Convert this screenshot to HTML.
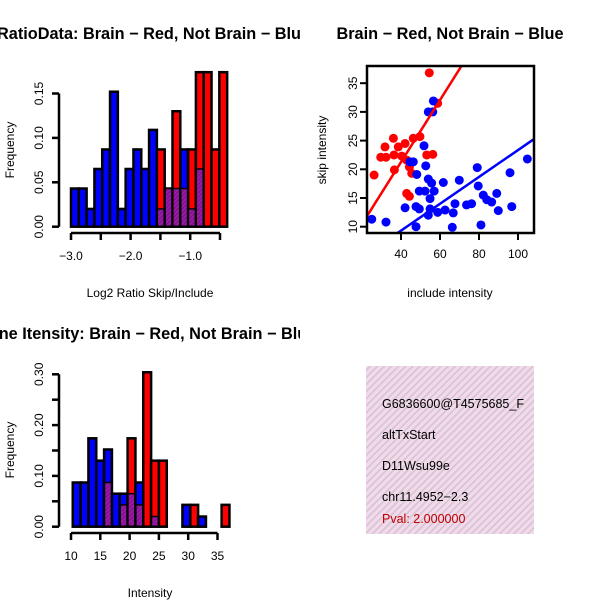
<!DOCTYPE html>
<html><head><meta charset="utf-8"><style>
html,body{margin:0;padding:0;background:#fff;width:600px;height:600px;overflow:hidden}
svg{display:block;font-family:"Liberation Sans",sans-serif}
</style></head><body>
<svg id="chart" width="600" height="600" viewBox="0 0 600 600">
<defs>
<pattern id="hatch" width="5" height="5" patternUnits="userSpaceOnUse" patternTransform="rotate(45)">
<rect width="5" height="5" fill="#f5d8f0"/><rect width="1.6" height="5" fill="#cfc8c8"/>
</pattern>
<pattern id="purp" width="3" height="3" patternUnits="userSpaceOnUse" patternTransform="rotate(45)">
<rect width="3" height="3" fill="#9a1aa8"/><rect width="1" height="3" fill="#7a0f8a"/>
</pattern>
<clipPath id="scClip"><rect x="367" y="66" width="167" height="167"/></clipPath>
<clipPath id="boxClip"><rect x="366" y="366" width="168" height="168"/></clipPath>
<clipPath id="leftClip"><rect x="0" y="0" width="300" height="600"/></clipPath>
</defs>
<g id="g1" clip-path="url(#leftClip)"></g>
<g id="g2"></g>
<g id="g3" clip-path="url(#leftClip)"></g>
<g clip-path="url(#boxClip)">
<rect x="366" y="366" width="168" height="168" fill="url(#hatch)"/>
<text x="382" y="408" font-size="12.5">G6836600@T4575685_F</text>
<text x="382" y="439" font-size="12.5">altTxStart</text>
<text x="382" y="470" font-size="12.5">D11Wsu99e</text>
<text x="382" y="501" font-size="12.5">chr11.4952−2.3</text>
<text x="382" y="523" font-size="12.5" fill="#c00000">Pval: 2.000000</text>
</g>
</svg>
<script>
// ---- Histogram 1 data (Log2 ratio) ----
const h1BinStart = -3.0;
const h1BinWidth = 0.131;
const h1Blue = [0.043,0.043,0.02,0.065,0.087,0.152,0.02,0.065,0.087,0.065,0.109,0.02,0.043,0.043,0.087,0.02,0.065,0,0,0];
const h1Red  = [0,0,0,0,0,0,0,0,0,0,0,0.087,0.043,0.13,0.043,0.087,0.174,0.174,0.087,0.174];
const h1XTicks = [-3.0,-2.5,-2.0,-1.5,-1.0,-0.5];
const h1XLabels = ["−3.0","","−2.0","","−1.0",""];
const h1YTicks = [0,0.05,0.10,0.15];
const h1YLabels = ["0.00","0.05","0.10","0.15"];
// ---- Histogram 2 data (Intensity) ----
const h2BinStart = 10.3;
const h2BinWidth = 1.337;
const h2Blue = [0.087,0.087,0.174,0.13,0.152,0.065,0.065,0.065,0.087,0,0.02,0,0,0,0.043,0,0.02,0,0,0];
const h2Red  = [0,0,0,0,0.087,0,0.043,0.174,0.043,0.304,0.13,0.13,0,0,0,0.043,0,0,0,0.043];
const h2XTicks = [10,15,20,25,30,35];
const h2XLabels = ["10","15","20","25","30","35"];
const h2YTicks = [0,0.05,0.10,0.15,0.20,0.25,0.30];
const h2YLabels = ["0.00","","0.10","","0.20","","0.30"];
// ---- Scatter data ----
const redX = [54.5,58.8,36.1,31.8,29.6,32.3,36.4,38.6,42.1,46.3,49.7,40.4,42.9,44.3,45.5,26.2,36.6,53.2,56.3,42.9,44.3];
const redY = [36.8,31.5,25.4,23.9,22.1,22.1,22.5,23.9,24.5,25.4,25.7,22.3,21.6,20.4,19.3,19.0,19.9,22.5,22.6,15.8,15.3];
const blueX = [56.6,54.0,56.3,51.8,44.6,46.3,52.7,48.1,54.0,55.7,61.7,69.9,79.1,79.6,95.9,104.8,49.4,52.3,57.0,54.9,82.2,84.0,86.5,89.1,42.1,47.7,49.4,54.9,58.8,62.6,67.7,66.8,73.6,76.2,89.9,96.8,54.0,25.0,32.3,47.7,66.3,81.0];
const blueY = [31.9,30.0,30.0,24.1,21.3,21.3,20.6,19.1,18.3,17.6,17.7,18.1,20.3,17.1,19.4,21.8,16.2,16.2,16.2,14.9,15.5,14.7,14.3,15.8,13.3,13.5,13.1,13.1,12.5,12.9,14.0,12.4,13.8,14.0,12.8,13.5,12.0,11.3,10.8,10.0,9.9,10.3];
// fitted line coefficients [intercept, slope]
const redFit = [-0.34, 0.54];
const blueFit = [-0.05, 0.234];
const scXTicks = [40,60,80,100];
const scYTicks = [10,15,20,25,30,35];

const NS="http://www.w3.org/2000/svg";
function mk(parent,tag,attrs){const e=document.createElementNS(NS,tag);for(const k in attrs)e.setAttribute(k,attrs[k]);parent.appendChild(e);return e;}
function txt(parent,x,y,s,size,extra){const t=mk(parent,'text',Object.assign({x:x,y:y,'font-size':size},extra||{}));t.textContent=s;return t;}

function histogram(g,cfg){
  const xs=v=>cfg.x0+(v-cfg.xd0)*cfg.xk;
  const ys=v=>cfg.y0-v*cfg.yk;
  for(let i=0;i<cfg.blue.length;i++){
    const a=cfg.binStart+i*cfg.binW, b=a+cfg.binW;
    const x1=xs(a), x2=xs(b);
    const bv=cfg.blue[i], rv=cfg.red[i], m=Math.min(bv,rv), top=Math.max(bv,rv);
    if(top<=0) continue;
    const hiCol = bv>=rv ? '#0000ff' : '#ff0000';
    const r1=mk(g,'rect',{x:x1,y:ys(top),width:x2-x1,height:ys(0)-ys(top),fill:hiCol,stroke:'#000','stroke-width':2.5});
    
    
    if(m>0){
      const r2=mk(g,'rect',{x:x1+1.2,y:ys(m),width:x2-x1-2.4,height:ys(0)-ys(m)-1.2,fill:'url(#purp)'});
      
      
      mk(g,'line',{x1:x1,x2:x2,y1:ys(m),y2:ys(m),stroke:'#000','stroke-width':1.5});
    }
  }
  const ya=mk(g,'g',{});
  
  
  mk(ya,'line',{x1:cfg.yAxX,x2:cfg.yAxX,y1:ys(cfg.yT[0]),y2:ys(cfg.yT[cfg.yT.length-1]),stroke:'#000','stroke-width':2.5});
  cfg.yT.forEach((v,i)=>{
    mk(ya,'line',{x1:cfg.yAxX-7,x2:cfg.yAxX,y1:ys(v),y2:ys(v),stroke:'#000','stroke-width':2.5});
    if(cfg.yL[i]) txt(ya,cfg.yAxX-20,ys(v),cfg.yL[i],12,{'text-anchor':'middle',transform:`rotate(-90 ${cfg.yAxX-20} ${ys(v)})`,dy:'4'});
  });
  const xa=mk(g,'g',{});
  
  
  mk(xa,'line',{x1:xs(cfg.xT[0]),x2:xs(cfg.xT[cfg.xT.length-1]),y1:cfg.xAxY,y2:cfg.xAxY,stroke:'#000','stroke-width':2.5});
  cfg.xT.forEach((v,i)=>{
    mk(xa,'line',{x1:xs(v),x2:xs(v),y1:cfg.xAxY,y2:cfg.xAxY+7,stroke:'#000','stroke-width':2.5});
    if(cfg.xL[i]) txt(xa,xs(v),cfg.xAxY+27,cfg.xL[i],12,{'text-anchor':'middle'});
  });
  const yt=txt(g,cfg.yTitleX,cfg.yTitleY,'Frequency',12,{'text-anchor':'middle',transform:`rotate(-90 ${cfg.yTitleX} ${cfg.yTitleY})`});
  
  
  const xt=txt(g,cfg.xTitleX,cfg.xTitleY,cfg.xTitle,12,{'text-anchor':'middle'});
  
  
  const tt=txt(g,cfg.titleX,cfg.titleY,cfg.title,16.3,{'text-anchor':'start','font-weight':'bold'});
  
  
}

histogram(document.getElementById('g1'),{
  x0:71,xd0:-3.0,xk:59.6,y0:226.7,yk:888,binStart:h1BinStart,binW:h1BinWidth,
  blue:h1Blue,red:h1Red,yT:h1YTicks,yL:h1YLabels,xT:h1XTicks,xL:h1XLabels,
  yAxX:59,xAxY:233,yTitleX:14,yTitleY:150,xTitleX:150,xTitleY:297,xTitle:'Log2 Ratio Skip/Include',
  titleX:-3,titleY:39,title:'RatioData: Brain − Red, Not Brain − Blue'
});
histogram(document.getElementById('g3'),{
  x0:71,xd0:10,xk:5.86,y0:526.7,yk:508,binStart:h2BinStart,binW:h2BinWidth,
  blue:h2Blue,red:h2Red,yT:h2YTicks,yL:h2YLabels,xT:h2XTicks,xL:h2XLabels,
  yAxX:59,xAxY:533,yTitleX:14,yTitleY:450,xTitleX:150,xTitleY:597,xTitle:'Intensity',
  titleX:-23,titleY:339,title:'Gene Itensity: Brain − Red, Not Brain − Blue'
});

(function(){
  const g=document.getElementById('g2');
  const xs=v=>401+(v-40)*1.95;
  const ys=v=>226.7-(v-10)*5.74;
  const pts=mk(g,'g',{'clip-path':'url(#scClip)'});
  redX.forEach((v,i)=>{const c=mk(pts,'circle',{cx:xs(v),cy:ys(redY[i]),r:4.5,fill:'#ff0000'});
    
    });
  blueX.forEach((v,i)=>{const c=mk(pts,'circle',{cx:xs(v),cy:ys(blueY[i]),r:4.5,fill:'#0000ff'});
    
    });
  const rl=mk(pts,'line',{x1:xs(0),y1:ys(redFit[0]),x2:xs(120),y2:ys(redFit[0]+redFit[1]*120),stroke:'#ff0000','stroke-width':2.5});
  
  
  const bl=mk(pts,'line',{x1:xs(0),y1:ys(blueFit[0]),x2:xs(120),y2:ys(blueFit[0]+blueFit[1]*120),stroke:'#0000ff','stroke-width':2.5});
  
  
  const fr=mk(g,'rect',{x:367,y:66,width:167,height:167,fill:'none',stroke:'#000','stroke-width':2.5});
  
  
  scXTicks.forEach(v=>{mk(g,'line',{x1:xs(v),x2:xs(v),y1:233,y2:240,stroke:'#000','stroke-width':2});
    txt(g,xs(v),258,String(v),12,{'text-anchor':'middle'});});
  scYTicks.forEach(v=>{mk(g,'line',{x1:360,x2:367,y1:ys(v),y2:ys(v),stroke:'#000','stroke-width':2});
    txt(g,353,ys(v),String(v),12,{'text-anchor':'middle',dy:'4',transform:`rotate(-90 353 ${ys(v)})`});});
  const xt=txt(g,450,297,'include intensity',12,{'text-anchor':'middle'});
  
  
  const yt=txt(g,326,150,'skip intensity',12,{'text-anchor':'middle',transform:'rotate(-90 326 150)'});
  
  
  const tt=txt(g,450,39,'Brain − Red, Not Brain − Blue',16.3,{'text-anchor':'middle','font-weight':'bold'});
  
  
})();
</script>
</body></html>
